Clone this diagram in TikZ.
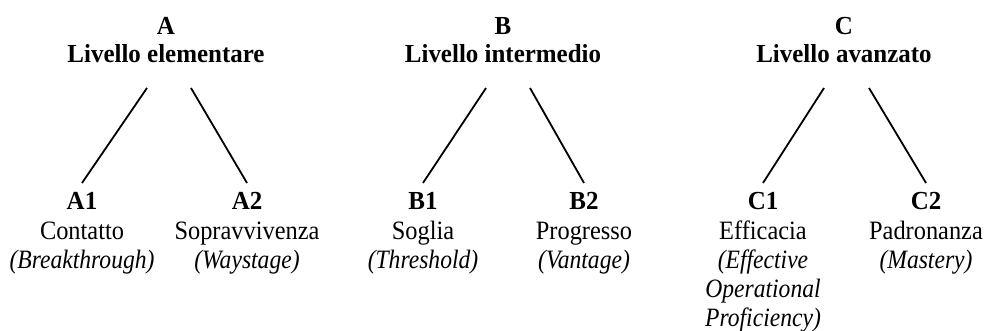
\documentclass[tikz,border=0pt]{standalone}
\usepackage{fontspec}
\setmainfont{Liberation Serif}
\newfontfamily\rmcond[FakeStretch=0.92]{Liberation Serif}
\newfontfamily\itcond[FakeStretch=0.89]{Liberation Serif}
\newfontfamily\bfcond[FakeStretch=0.96]{Liberation Serif}
\begin{document}
\begin{tikzpicture}[x=1pt,y=1pt,
  hd/.style={inner sep=0pt, anchor=base, font=\bfcond\bfseries\fontsize{26}{29}\selectfont},
  nm/.style={inner sep=0pt, anchor=base, font=\rmcond\fontsize{26.5}{29}\selectfont},
  it/.style={inner sep=0pt, anchor=base, font=\itcond\itshape\fontsize{26.5}{29}\selectfont},
  link/.style={line width=1.8pt, black}]
\useasboundingbox (0,0) rectangle (988,331);
% top levels
\node[hd] (A)  at (166,296) {A};
\node[hd] (An) at (166,268) {Livello elementare};
\node[hd] (B)  at (503,296) {B};
\node[hd] (Bn) at (503,268) {Livello intermedio};
\node[hd] (C)  at (844,296) {C};
\node[hd] (Cn) at (844,268) {Livello avanzato};
% sublevels
\node[hd] (A1) at (82,121) {A1};
\node[nm] (A1n) at (82,91) {Contatto};
\node[it] (A1e) at (82,62) {(Breakthrough)};
\node[hd] (A2) at (247,121) {A2};
\node[nm] (A2n) at (247,91) {Sopravvivenza};
\node[it] (A2e) at (247,62) {(Waystage)};
\node[hd] (B1) at (423,121) {B1};
\node[nm] (B1n) at (423,91) {Soglia};
\node[it] (B1e) at (423,62) {(Threshold)};
\node[hd] (B2) at (584,121) {B2};
\node[nm] (B2n) at (584,91) {Progresso};
\node[it] (B2e) at (584,62) {(Vantage)};
\node[hd] (C1) at (763,121) {C1};
\node[nm] (C1n) at (763,91) {Efficacia};
\node[it] (C1e) at (763,62) {(Effective};
\node[it] (C1f) at (763,33) {Operational};
\node[it] (C1g) at (763,4) {Proficiency)};
\node[hd] (C2) at (926,121) {C2};
\node[nm] (C2n) at (926,91) {Padronanza};
\node[it] (C2e) at (926,62) {(Mastery)};
% connectors
\draw[link] ([xshift=-19pt,yshift=-25pt]An.base) -- ([yshift=27pt]A1.base);
\draw[link] ([xshift=25pt,yshift=-25pt]An.base) -- ([yshift=27pt]A2.base);
\draw[link] ([xshift=-17pt,yshift=-25pt]Bn.base) -- ([yshift=27pt]B1.base);
\draw[link] ([xshift=27pt,yshift=-25pt]Bn.base) -- ([yshift=27pt]B2.base);
\draw[link] ([xshift=-20pt,yshift=-25pt]Cn.base) -- ([yshift=27pt]C1.base);
\draw[link] ([xshift=25pt,yshift=-25pt]Cn.base) -- ([yshift=27pt]C2.base);
\end{tikzpicture}
\end{document}
